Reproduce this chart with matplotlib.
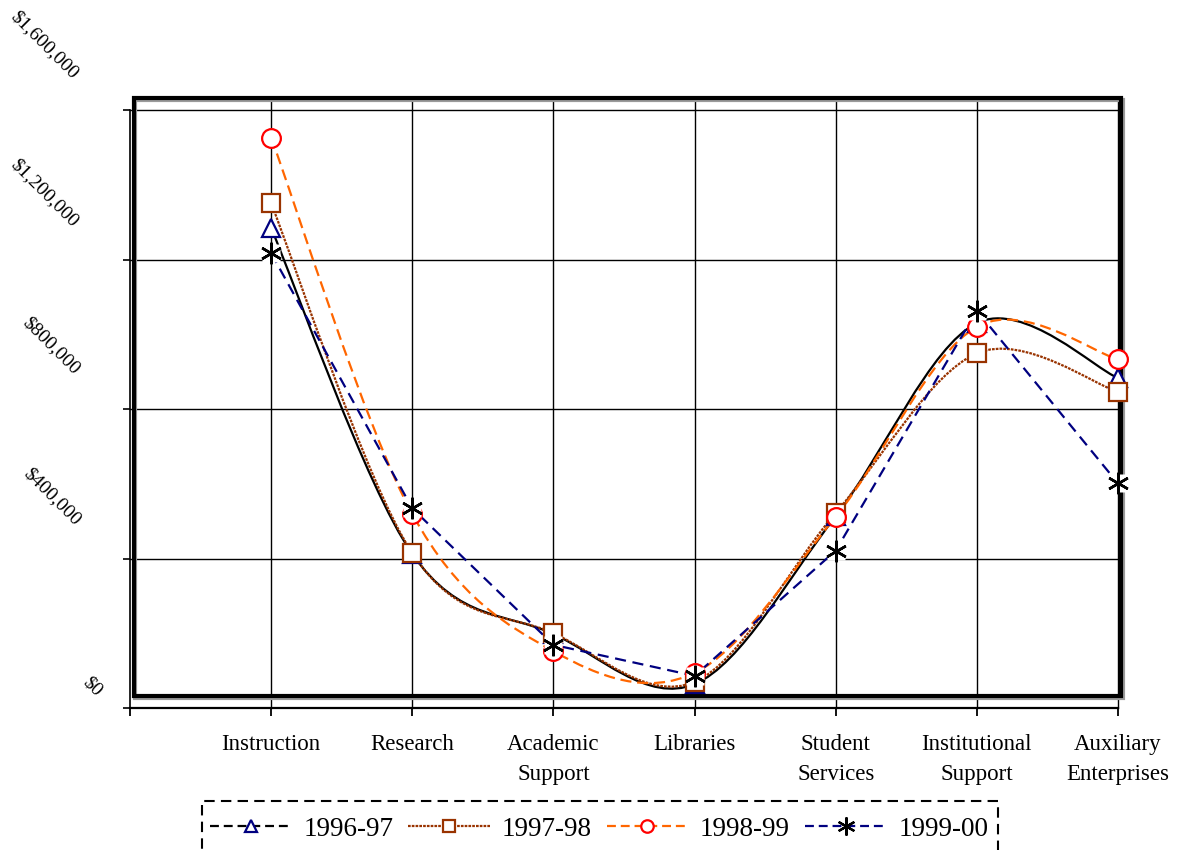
import numpy as np
import matplotlib
matplotlib.use("Agg")
import matplotlib.pyplot as plt
from matplotlib.path import Path
from matplotlib.patches import PathPatch, Rectangle
from matplotlib.lines import Line2D

plt.rcParams['font.family'] = ['Liberation Serif', 'DejaVu Serif']

# ---------------- data ----------------
categories = ["Instruction", "Research", "Academic\nSupport", "Libraries",
              "Student\nServices", "Institutional\nSupport", "Auxiliary\nEnterprises"]
years = ["1996-97", "1997-98", "1998-99", "1999-00"]
v_1996_97 = [1284000, 412000, 198000, 64000, 513000, 1030000, 883000]
v_1997_98 = [1350000, 414000, 200000, 70000, 522000, 949000, 846000]
v_1998_99 = [1526000, 519000, 152000, 94000, 512000, 1020000, 933000]
v_1999_00 = [1217000, 534000, 169000, 86000, 421000, 1063000, 601000]
y_ticks = [0, 400000, 800000, 1200000, 1600000]
y_tick_labels = ["$0", "$400,000", "$800,000", "$1,200,000", "$1,600,000"]

# ---------------- layout ----------------
W, H = 1178, 850
fig = plt.figure(figsize=(W / 100, H / 100), dpi=100)
ax = fig.add_axes([130 / W, 142 / H, 988 / W, 598 / H])
xpos = np.arange(1, len(categories) + 1)
ax.set_xlim(0, len(categories))
ax.set_ylim(0, 1600000)

for s in ['top', 'right']:
    ax.spines[s].set_visible(False)
ax.spines['left'].set_linewidth(1.2)
ax.spines['bottom'].set_linewidth(1.6)

ax.set_xticks(np.arange(0, len(categories) + 1))
ax.set_xticklabels([""] + categories, fontsize=16.5, linespacing=1.55)
ax.tick_params(axis='x', direction='out', length=6, width=1.3, pad=13)
ax.set_yticks(y_ticks)
ax.set_yticklabels([""] * len(y_ticks))
ax.tick_params(axis='y', direction='out', length=5, width=1.2, pad=0)

# rotated y labels (pixel offsets of label centres from axis/tick)
label_offsets = [(-38, 21), (-78, 62), (-79, 63), (-85, 67), (-86, 65)]
for val, lab, (dx, dy) in zip(y_ticks, y_tick_labels, label_offsets):
    ax.annotate(lab, xy=(0, val), xycoords=('axes fraction', 'data'),
                xytext=(dx, dy), textcoords='offset pixels',
                ha='center', va='center', rotation=-45, fontsize=14,
                annotation_clip=False)

# grid
for yv in y_ticks[1:]:
    ax.axhline(yv, xmin=0, xmax=1.001, color='black', lw=1.0, zorder=1, clip_on=False)
for xv in xpos:
    ax.axvline(xv, ymin=0, ymax=(708 - 98) / 598, color='black', lw=1.0,
               zorder=1, clip_on=False)

# plot-area border (thick, with grey shadow)
x0 = (133.5 - 130) / 988
x1 = (1121 - 130) / 988
y0 = (708 - 696) / 598
y1 = (708 - 98) / 598
shadow = Rectangle((x0 + 1.5 / 988, y0 - 1.5 / 598), x1 - x0, y1 - y0,
                   transform=ax.transAxes, fill=False, edgecolor='#9a9a9a',
                   lw=3, clip_on=False, zorder=3)
box = Rectangle((x0, y0), x1 - x0, y1 - y0, transform=ax.transAxes, fill=False,
                edgecolor='black', lw=3, clip_on=False, zorder=3.1,
                joinstyle='miter')
ax.add_patch(shadow)
ax.add_patch(box)


def smooth_path(xs, ys, t=1 / 6):
    P = np.column_stack([xs, ys]).astype(float)
    n = len(P)
    verts = [P[0]]
    codes = [Path.MOVETO]
    for i in range(n - 1):
        p0 = P[i - 1] if i > 0 else P[i]
        p1 = P[i]
        p2 = P[i + 1]
        p3 = P[i + 2] if i + 2 < n else P[i + 1]
        verts += [p1 + (p2 - p0) * t, p2 - (p3 - p1) * t, p2]
        codes += [Path.CURVE4] * 3
    return Path(verts, codes)


navy = '#000080'
brown = '#993300'
orange = '#FF6600'
red = '#FF0000'

# smoothed lines
ax.add_patch(PathPatch(smooth_path(xpos, v_1996_97), fill=False, edgecolor='black',
                       lw=1.6, zorder=4, capstyle='butt'))
ax.add_patch(PathPatch(smooth_path(xpos, v_1997_98), fill=False, edgecolor=brown,
                       lw=1.6, linestyle=(0, (1.2, 0.5)), zorder=4.1))
ax.add_patch(PathPatch(smooth_path(xpos, v_1998_99), fill=False, edgecolor=orange,
                       lw=1.6, linestyle=(0, (5, 2.6)), zorder=4.2))
# straight line
ax.plot(xpos, v_1999_00, color=navy, lw=1.6, ls=(0, (5, 3)), zorder=4.3)

# markers
ms = 13.5
ax.plot(xpos, v_1996_97, ls='none', marker='^', ms=ms, mfc='white', mec=navy,
        mew=1.6, zorder=5, clip_on=False)
ax.plot(xpos, v_1997_98, ls='none', marker='s', ms=ms, mfc='white', mec=brown,
        mew=1.6, zorder=5.1, clip_on=False)
ax.plot(xpos, v_1998_99, ls='none', marker='o', ms=ms, mfc='white', mec=red,
        mew=1.6, zorder=5.2, clip_on=False)
ax.plot(xpos, v_1999_00, ls='none', marker='s', ms=ms, mfc='white', mec='none',
        zorder=5.3, clip_on=False)
ax.plot(xpos, v_1999_00, ls='none', marker=(6, 2, 0), ms=ms + 2, mec='black',
        mew=1.8, zorder=5.4, clip_on=False)

# legend (frame drawn separately: runs off the bottom of the figure)
lms = 9
handles = [
    Line2D([], [], color='black', ls=(0, (4, 2.2)), lw=1.6, marker='^', ms=lms,
           mfc='white', mec=navy, mew=1.6),
    Line2D([], [], color=brown, ls=(0, (1.2, 0.5)), lw=1.6, marker='s', ms=lms,
           mfc='white', mec=brown, mew=1.6),
    Line2D([], [], color=orange, ls=(0, (4, 2.2)), lw=1.6, marker='o', ms=lms,
           mfc='white', mec=red, mew=1.6),
    Line2D([], [], color=navy, ls=(0, (4, 2.2)), lw=1.6, marker=(6, 2, 0),
           ms=lms + 4, mec='black', mew=1.6),
]
leg = fig.legend(handles, years, loc='center left',
                 bbox_to_anchor=(210 / W, 1 - 829 / H), ncol=4, fontsize=19.5,
                 frameon=False, borderaxespad=0, borderpad=0,
                 handlelength=3.0, handletextpad=0.45, columnspacing=0.55)
frame = Rectangle((202 / W, -20 / H), (998 - 202) / W, (850 - 801 + 20) / H,
                  transform=fig.transFigure, fill=False, edgecolor='black',
                  lw=1.5, linestyle=(0, (5, 3)))
fig.add_artist(frame)

fig.savefig("out.png", dpi=100)
